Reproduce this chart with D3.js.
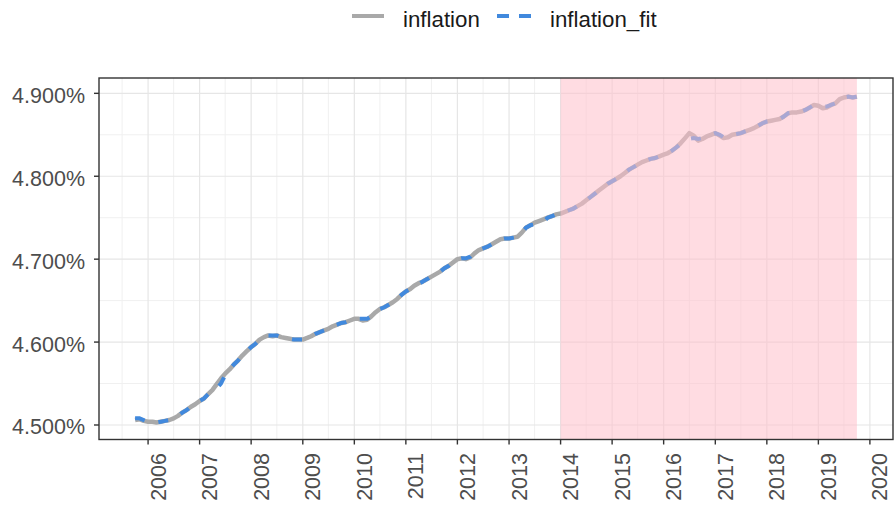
<!DOCTYPE html>
<html>
<head>
<meta charset="utf-8">
<script src="https://cdn.jsdelivr.net/npm/d3@7"></script>
<style>
  html, body { margin: 0; padding: 0; background: #ffffff; }
  svg { display: block; font-family: "Liberation Sans", Arial, sans-serif; }
</style>
</head>
<body>
<svg id="chart" width="896" height="506"></svg>
<script>
// Monthly series, first observation October 2005
const seriesNames = ["inflation", "inflation_fit"];
const firstMonth = "2005-10-01";

const inflation = [
  4.506, 4.507, 4.505,
  4.504, 4.504, 4.503, 4.504, 4.505, 4.506, 4.508, 4.511, 4.515, 4.518, 4.522, 4.525,
  4.529, 4.532, 4.537, 4.542, 4.549, 4.556, 4.562, 4.567, 4.573, 4.578, 4.584, 4.589,
  4.594, 4.598, 4.603, 4.606, 4.608, 4.607, 4.608, 4.606, 4.605, 4.604, 4.603, 4.603,
  4.603, 4.605, 4.607, 4.610, 4.612, 4.614, 4.616, 4.619, 4.621, 4.623, 4.624, 4.626,
  4.628, 4.628, 4.626, 4.627, 4.631, 4.636, 4.640, 4.642, 4.645, 4.648, 4.652, 4.657,
  4.661, 4.664, 4.668, 4.671, 4.673, 4.676, 4.679, 4.682, 4.685, 4.689, 4.692, 4.696,
  4.700, 4.701, 4.700, 4.702, 4.707, 4.711, 4.713, 4.715, 4.718, 4.721, 4.724, 4.725,
  4.725, 4.726, 4.727, 4.732, 4.738, 4.741, 4.744, 4.746, 4.748, 4.750, 4.752, 4.754,
  4.755, 4.757, 4.759, 4.761, 4.764, 4.767, 4.771, 4.775, 4.779, 4.783, 4.787, 4.791,
  4.794, 4.797, 4.800, 4.804, 4.808, 4.811, 4.814, 4.817, 4.819, 4.821, 4.822, 4.824,
  4.826, 4.828, 4.831, 4.835, 4.840, 4.846, 4.852, 4.849, 4.843, 4.845, 4.848, 4.850,
  4.852, 4.849, 4.846, 4.847, 4.850, 4.851, 4.852, 4.854, 4.856, 4.858, 4.861, 4.864,
  4.866, 4.867, 4.868, 4.869, 4.872, 4.876, 4.877, 4.877, 4.878, 4.880, 4.883, 4.886,
  4.885, 4.882, 4.883, 4.886, 4.888, 4.893, 4.895, 4.896, 4.895, 4.896
];

const inflationFit = [
  4.508, 4.508, 4.506,
  4.504, 4.504, 4.503, 4.504, 4.505, 4.506, 4.508, 4.511, 4.515, 4.518, 4.522, 4.525,
  4.529, 4.532, 4.537, 4.542, 4.544, 4.550, 4.560, 4.567, 4.573, 4.578, 4.584, 4.589,
  4.594, 4.598, 4.603, 4.606, 4.608, 4.608, 4.608, 4.606, 4.605, 4.604, 4.603, 4.603,
  4.603, 4.605, 4.607, 4.610, 4.612, 4.614, 4.616, 4.619, 4.621, 4.623, 4.624, 4.626,
  4.628, 4.628, 4.628, 4.628, 4.631, 4.636, 4.640, 4.642, 4.645, 4.648, 4.652, 4.657,
  4.661, 4.664, 4.667, 4.670, 4.673, 4.676, 4.679, 4.682, 4.685, 4.689, 4.692, 4.696,
  4.700, 4.701, 4.701, 4.703, 4.708, 4.711, 4.713, 4.715, 4.718, 4.721, 4.724, 4.725,
  4.725, 4.726, 4.727, 4.732, 4.738, 4.741, 4.742, 4.743, 4.745, 4.750, 4.752, 4.754,
  4.755, 4.757, 4.759, 4.761, 4.764, 4.767, 4.771, 4.775, 4.779, 4.783, 4.787, 4.791,
  4.794, 4.797, 4.800, 4.804, 4.808, 4.811, 4.814, 4.817, 4.819, 4.821, 4.822, 4.824,
  4.826, 4.828, 4.831, 4.835, 4.839, 4.842, 4.845, 4.846, 4.845, 4.846, 4.848, 4.850,
  4.852, 4.850, 4.847, 4.847, 4.850, 4.851, 4.852, 4.854, 4.856, 4.858, 4.861, 4.864,
  4.866, 4.867, 4.868, 4.869, 4.872, 4.876, 4.877, 4.877, 4.878, 4.880, 4.883, 4.886,
  4.886, 4.884, 4.884, 4.886, 4.888, 4.893, 4.895, 4.896, 4.895, 4.896
];

const yTicks = [4.5, 4.6, 4.7, 4.8, 4.9];
const yMinorTicks = [4.55, 4.65, 4.75, 4.85];
const xTickYears = [2006, 2007, 2008, 2009, 2010, 2011, 2012, 2013, 2014, 2015, 2016, 2017, 2018, 2019, 2020];
const highlightFrom = "2014-01-01";

const colors = { inflation: "#a9a9a9", inflation_fit: "#4189dd" };

// ---- layout ----
const W = 896, H = 506;
const margin = { top: 78, right: 3, bottom: 66.5, left: 99 };
const innerW = W - margin.left - margin.right;
const innerH = H - margin.top - margin.bottom;

const parse = d3.timeParse("%Y-%m-%d");
const start = parse(firstMonth);
const dates = inflation.map((_, i) => d3.timeMonth.offset(start, i));
const rows = dates.map((d, i) => ({ date: d, inflation: inflation[i], fit: inflationFit[i] }));

// x domain: data range expanded by 5% on each side
const t0 = +dates[0], t1 = +dates[dates.length - 1];
const pad = (t1 - t0) * 0.05;
const x = d3.scaleTime()
  .domain([new Date(t0 - pad), new Date(t1 + pad)])
  .range([0, innerW]);

const y = d3.scaleLinear()
  .domain([4.4825, 4.9185])
  .range([innerH, 0]);

const svg = d3.select("#chart");
const g = svg.append("g").attr("transform", `translate(${margin.left},${margin.top})`);

// ---- grid ----
const grid = g.append("g");
const yearDate = yr => new Date(yr, 0, 1);
const midYears = d3.range(2005, 2021).map(yr => new Date(yr, 6, 1))
  .filter(d => x(d) >= 0 && x(d) <= innerW);

grid.selectAll("line.ymin").data(yMinorTicks).join("line")
  .attr("x1", 0).attr("x2", innerW)
  .attr("y1", d => y(d)).attr("y2", d => y(d))
  .attr("stroke", "#f0f0f0").attr("stroke-width", 1);
grid.selectAll("line.xmin").data(midYears).join("line")
  .attr("y1", 0).attr("y2", innerH)
  .attr("x1", d => x(d)).attr("x2", d => x(d))
  .attr("stroke", "#f0f0f0").attr("stroke-width", 1);
grid.selectAll("line.ymaj").data(yTicks).join("line")
  .attr("x1", 0).attr("x2", innerW)
  .attr("y1", d => y(d)).attr("y2", d => y(d))
  .attr("stroke", "#e6e6e6").attr("stroke-width", 1.2);
grid.selectAll("line.xmaj").data(xTickYears).join("line")
  .attr("y1", 0).attr("y2", innerH)
  .attr("x1", d => x(yearDate(d))).attr("x2", d => x(yearDate(d)))
  .attr("stroke", "#e6e6e6").attr("stroke-width", 1.2);

// ---- lines ----
const lineInfl = d3.line().x(d => x(d.date)).y(d => y(d.inflation));
const lineFit = d3.line().x(d => x(d.date)).y(d => y(d.fit));

g.append("path").datum(rows)
  .attr("d", lineInfl)
  .attr("fill", "none")
  .attr("stroke", colors.inflation)
  .attr("stroke-width", 4.5)
  .attr("stroke-linejoin", "round");

g.append("path").datum(rows)
  .attr("d", lineFit)
  .attr("fill", "none")
  .attr("stroke", colors.inflation_fit)
  .attr("stroke-width", 4)
  .attr("stroke-dasharray", "10,14");

// ---- highlighted period ----
const hx0 = x(parse(highlightFrom));
const hx1 = x(dates[dates.length - 1]);
g.append("rect")
  .attr("x", hx0).attr("y", 0)
  .attr("width", hx1 - hx0).attr("height", innerH)
  .attr("fill", "#ffc0cb").attr("fill-opacity", 0.55);

// ---- panel border ----
g.append("rect")
  .attr("x", 0).attr("y", 0).attr("width", innerW).attr("height", innerH)
  .attr("fill", "none").attr("stroke", "#333333").attr("stroke-width", 1.4);

// ---- y axis ----
const yAxis = g.append("g");
yAxis.selectAll("line").data(yTicks).join("line")
  .attr("x1", -5).attr("x2", 0)
  .attr("y1", d => y(d)).attr("y2", d => y(d))
  .attr("stroke", "#333333").attr("stroke-width", 1.4);
yAxis.selectAll("text").data(yTicks).join("text")
  .attr("x", -14).attr("y", d => y(d) + 9.5)
  .attr("text-anchor", "end")
  .attr("font-size", 21.5)
  .attr("fill", "#4d4d4d")
  .text(d => d3.format(".3f")(d) + "%");

// ---- x axis ----
const xAxis = g.append("g").attr("transform", `translate(0,${innerH})`);
xAxis.selectAll("line").data(xTickYears).join("line")
  .attr("x1", d => x(yearDate(d))).attr("x2", d => x(yearDate(d)))
  .attr("y1", 0).attr("y2", 5)
  .attr("stroke", "#333333").attr("stroke-width", 1.4);
xAxis.selectAll("text").data(xTickYears).join("text")
  .attr("transform", d => `translate(${x(yearDate(d))},${13.5}) rotate(-90)`)
  .attr("x", 0).attr("y", 17.5)
  .attr("text-anchor", "end")
  .attr("font-size", 21.5)
  .attr("fill", "#4d4d4d")
  .text(d => d);

// ---- legend ----
const legend = svg.append("g");
const keyY = 16;
legend.append("line")
  .attr("x1", 352).attr("x2", 384).attr("y1", keyY).attr("y2", keyY)
  .attr("stroke", colors.inflation).attr("stroke-width", 4);
legend.append("text")
  .attr("x", 403).attr("y", 27)
  .attr("font-size", 22.3).attr("fill", "#1a1a1a")
  .text(seriesNames[0]);
legend.append("line")
  .attr("x1", 497).attr("x2", 531).attr("y1", keyY).attr("y2", keyY)
  .attr("stroke", colors.inflation_fit).attr("stroke-width", 4)
  .attr("stroke-dasharray", "12,10");
legend.append("text")
  .attr("x", 550).attr("y", 27)
  .attr("font-size", 22.3).attr("fill", "#1a1a1a")
  .text(seriesNames[1]);
</script>
</body>
</html>
